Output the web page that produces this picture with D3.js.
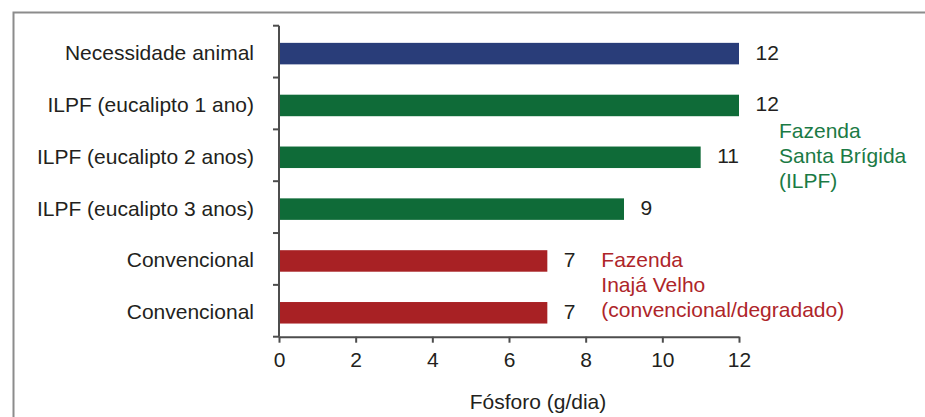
<!DOCTYPE html>
<html>
<head>
<meta charset="utf-8">
<script src="https://cdn.jsdelivr.net/npm/d3@7/dist/d3.min.js"></script>
<style>
  html, body { margin: 0; padding: 0; background: #fff; }
  svg { display: block; }
  text { font-family: "Liberation Sans", Arial, Helvetica, sans-serif; }
</style>
</head>
<body>
<svg id="chart" width="925" height="417"></svg>
<script>
// Phosphorus supply per system (g/day)
const categories = [
  "Necessidade animal",
  "ILPF (eucalipto 1 ano)",
  "ILPF (eucalipto 2 anos)",
  "ILPF (eucalipto 3 anos)",
  "Convencional",
  "Convencional"
];
const values = [12, 12, 11, 9, 7, 7];
const groups = ["need", "ilpf", "ilpf", "ilpf", "conv", "conv"];
const xTicks = [0, 2, 4, 6, 8, 10, 12];
const xTitle = "Fósforo (g/dia)";
const noteIlpf = ["Fazenda", "Santa Brígida", "(ILPF)"];
const noteConv = ["Fazenda", "Inajá Velho", "(convencional/degradado)"];

const barColor = { need: "#293d79", ilpf: "#0f6b38", conv: "#a82124" };
const noteColor = { ilpf: "#1b7a45", conv: "#ae2529" };
const ink = "#231f20";
const axisColor = "#4d4d4d";
const fontSize = 21;

const svg = d3.select("#chart");

// outer frame
svg.append("rect")
  .attr("x", 13.5).attr("y", 12.5)
  .attr("width", 1000).attr("height", 1000)
  .attr("fill", "none").attr("stroke", "#8c8c8c").attr("stroke-width", 2);

const idx = d3.range(categories.length);

const x = d3.scaleLinear().domain([0, 12]).range([279, 739]);
const y = d3.scaleBand().domain(idx).range([25.7, 336.7])
  .paddingInner(0.585).paddingOuter(0.2925);
const barShift = 2;
const yMid = i => y(i) + barShift + y.bandwidth() / 2;

// bars
svg.append("g").selectAll("rect")
  .data(idx)
  .join("rect")
  .attr("x", x(0))
  .attr("y", i => y(i) + barShift)
  .attr("width", i => x(values[i]) - x(0))
  .attr("height", y.bandwidth())
  .attr("fill", i => barColor[groups[i]]);

// x axis
const xAxis = svg.append("g")
  .attr("transform", `translate(0,${y.range()[1]})`)
  .call(d3.axisBottom(x).tickValues(xTicks).tickSize(6).tickSizeOuter(0));
xAxis.select(".domain").attr("stroke", axisColor).attr("stroke-width", 2);
xAxis.selectAll(".tick line").attr("stroke", axisColor).attr("stroke-width", 2);
xAxis.selectAll(".tick text")
  .attr("y", 30).attr("dy", null)
  .attr("fill", ink)
  .style("font-size", fontSize + "px")
  .style("font-family", "'Liberation Sans', Arial, sans-serif");

// y axis: vertical line with ticks at category boundaries
const yAxis = svg.append("g");
const bounds = d3.range(categories.length + 1).map(k => y.range()[0] + k * y.step());
yAxis.append("line")
  .attr("x1", x(0)).attr("x2", x(0))
  .attr("y1", y.range()[0]).attr("y2", y.range()[1])
  .attr("stroke", axisColor).attr("stroke-width", 2);
yAxis.selectAll("line.tick")
  .data(bounds)
  .join("line")
  .attr("class", "tick")
  .attr("x1", x(0) - 6).attr("x2", x(0))
  .attr("y1", d => d).attr("y2", d => d)
  .attr("stroke", axisColor).attr("stroke-width", 2);

// category labels
svg.append("g").selectAll("text")
  .data(idx)
  .join("text")
  .attr("x", x(0) - 25)
  .attr("y", i => yMid(i) + 6.5)
  .attr("text-anchor", "end")
  .attr("fill", ink)
  .style("font-size", fontSize + "px")
  .text(i => categories[i]);

// value labels
svg.append("g").selectAll("text")
  .data(idx)
  .join("text")
  .attr("x", i => x(values[i]) + 16.5)
  .attr("y", i => yMid(i) + 6)
  .attr("fill", ink)
  .style("font-size", fontSize + "px")
  .text(i => d3.format("d")(values[i]));

// axis title
svg.append("text")
  .attr("x", 538)
  .attr("y", 409)
  .attr("text-anchor", "middle")
  .attr("fill", ink)
  .style("font-size", fontSize + "px")
  .text(xTitle);

// farm notes
function note(lines, color, x0, y0) {
  svg.append("g").selectAll("text")
    .data(lines)
    .join("text")
    .attr("x", x0)
    .attr("y", (d, k) => y0 + k * 25)
    .attr("fill", color)
    .style("font-size", fontSize + "px")
    .text(d => d);
}
note(noteIlpf, noteColor.ilpf, x(12) + 40, yMid(1) + 33);
note(noteConv, noteColor.conv, x(7) + 54, yMid(4) + 6);
</script>
</body>
</html>
